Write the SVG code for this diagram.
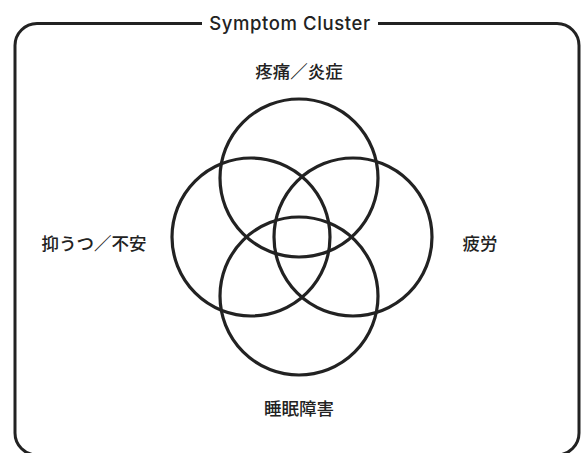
<svg xmlns="http://www.w3.org/2000/svg" width="581" height="453" viewBox="0 0 581 453">
<style>
.frame{fill:none;stroke:#222;stroke-width:3}
.c{fill:none;stroke:#222;stroke-width:3.2}
.title{font-family:Inter,"Liberation Sans",sans-serif;font-size:18.5px;font-weight:500;fill:#222;letter-spacing:0.6px}
.lbl{font-family:"Noto Sans CJK JP",sans-serif;font-size:17.5px;font-weight:500;fill:#222}
</style>
<rect width="581" height="453" fill="#fff"/>
<g id="frame">
<path class="frame" d="M202,23.5 H37 A22,22 0 0 0 15,45.5 V433 A22,22 0 0 0 37,455 H557 A22,22 0 0 0 579,433 V45.5 A22,22 0 0 0 557,23.5 H378"/>
<text class="title" x="290" y="29.5" text-anchor="middle">Symptom Cluster</text>
</g>
<g id="pain">
<circle class="c" cx="299" cy="178" r="79"/>
<text class="lbl" x="299" y="78" text-anchor="middle">疼痛／炎症</text>
</g>
<g id="depression">
<circle class="c" cx="251" cy="237" r="79"/>
<text class="lbl" x="94" y="250" text-anchor="middle">抑うつ／不安</text>
</g>
<g id="fatigue">
<circle class="c" cx="353" cy="237" r="79"/>
<text class="lbl" x="480" y="250" text-anchor="middle">疲労</text>
</g>
<g id="sleep">
<circle class="c" cx="299" cy="296" r="79"/>
<text class="lbl" x="299" y="415" text-anchor="middle">睡眠障害</text>
</g>
<g id="connectors"></g>
</svg>
